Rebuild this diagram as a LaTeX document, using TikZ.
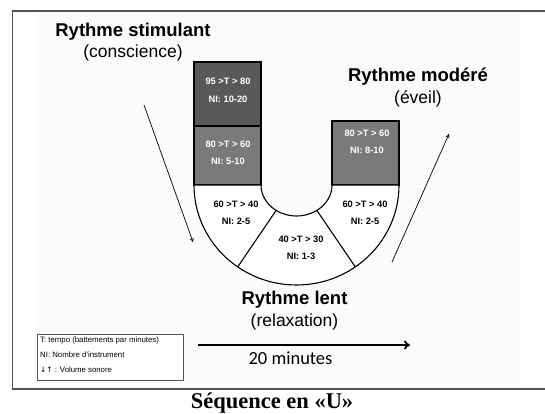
\documentclass[tikz,border=0pt]{standalone}
\usepackage{fontspec}
\newfontfamily\arial{Liberation Sans}
\newfontfamily\calib{Carlito}
\newfontfamily\serifcap{Liberation Serif}
\usetikzlibrary{arrows.meta,calc}

\definecolor{darkbox}{gray}{0.35}
\definecolor{midbox}{gray}{0.48}
\definecolor{framegray}{gray}{0.33}

\tikzset{
    title/.style={font=\arial\bfseries\fontsize{18.5}{20}\selectfont},
    subtitle/.style={font=\arial\fontsize{17.5}{19}\selectfont},
    inbox/.style={font=\arial\bfseries\fontsize{9.3}{17.5}\selectfont,text=white,align=center,inner sep=0pt},
    insector/.style={inbox,text=black},
    boxline/.style={draw=black,line width=1.3pt},
    trend/.style={line width=0.7pt,-{To[length=4pt,width=4pt]}},
}

\begin{document}
\begin{tikzpicture}[x=1pt,y=1pt]
        \useasboundingbox (0,0) rectangle (545,414);
        % Draw frame and light panel
        \fill[gray!3] (35,31) rectangle (521,401);
        \draw[framegray,line width=1.6pt] (546,403) -- (12.5,403) -- (12.5,25) -- (546,25);
        % Draw the two stacked boxes on the left and the box on the right
        \draw[boxline,fill=darkbox] (194,288) rectangle (261,352);
        \draw[boxline,fill=midbox] (194,229) rectangle (261,288);
        \draw[boxline,fill=midbox] (332,229) rectangle (399,293);
        \node[inbox] (t95) at (228,323.5) {95 >T > 80\\NI: 10-20};
        \node[inbox] (t80l) at (228,261) {80 >T > 60\\NI: 5-10};
        \node[inbox] (t80r) at (367,272) {80 >T > 60\\NI: 8-10};
        % Draw bottom of the U
        \coordinate (c) at (296.5,229);
        \draw[black,line width=1.1pt,fill=white] (194,229) arc[start angle=180,end angle=360,x radius=102.5,y radius=100]
            -- (332,229) arc[start angle=0,end angle=-180,x radius=35.5,y radius=31] -- cycle;
        \draw[black,line width=1.1pt] ($(c)+(235:35.5 and 31)$) -- ($(c)+(235:102.5 and 100)$);
        \draw[black,line width=1.1pt] ($(c)+(305:35.5 and 31)$) -- ($(c)+(305:102.5 and 100)$);
        \node[insector] (t60l) at (236,201) {60 >T > 40\\NI: 2-5};
        \node[insector] (t40) at (301,166) {40 >T > 30\\NI: 1-3};
        \node[insector] (t60r) at (365,201) {60 >T > 40\\NI: 2-5};
        % Draw rhythm labels
        \node[title] (stim) at (133,382) {Rythme stimulant};
        \node[subtitle] (stimsub) at (133,361) {(conscience)};
        \node[title] (mod) at (418,337) {Rythme modéré};
        \node[subtitle] (modsub) at (418,315) {(éveil)};
        \node[title] (lent) at (294.5,114) {Rythme lent};
        \node[subtitle] (lentsub) at (294.5,92) {(relaxation)};
        % Draw trend arrows
        \coordinate (down1) at (144,309);
        \coordinate (down2) at (193,172);
        \coordinate (up1) at (392,152);
        \coordinate (up2) at (449,280);
        \draw[trend] (down1) -- (down2);
        \draw[trend] (up1) -- (up2);
        % Draw time arrow
        \coordinate (tstart) at (198,69);
        \coordinate (tend) at (410,69);
        \draw[line width=1.8pt,-{To[length=6pt,width=9pt]}] (tstart) -- (tend);
        \node[font=\calib\fontsize{18.5}{20}\selectfont] (dur) at (290.5,56) {20 minutes};
        % Draw legend
        \draw[framegray,line width=0.6pt,fill=white] (37.5,34) rectangle (183,80);
        \node[align=left,anchor=north west,inner sep=0pt,font=\arial\fontsize{7.8}{15}\selectfont] (legend) at (40,77) {
            T: tempo (battements par minutes)\\
            NI: Nombre d'instrument\\
            {\fontspec{DejaVu Sans}\fontsize{7.5}{15}\selectfont ↓↑} : Volume sonore
        };
        % Draw caption
        \node[font=\serifcap\bfseries\fontsize{22.5}{24}\selectfont] (caption) at (272,11) {Séquence en «U»};
    \end{tikzpicture}
\end{document}
